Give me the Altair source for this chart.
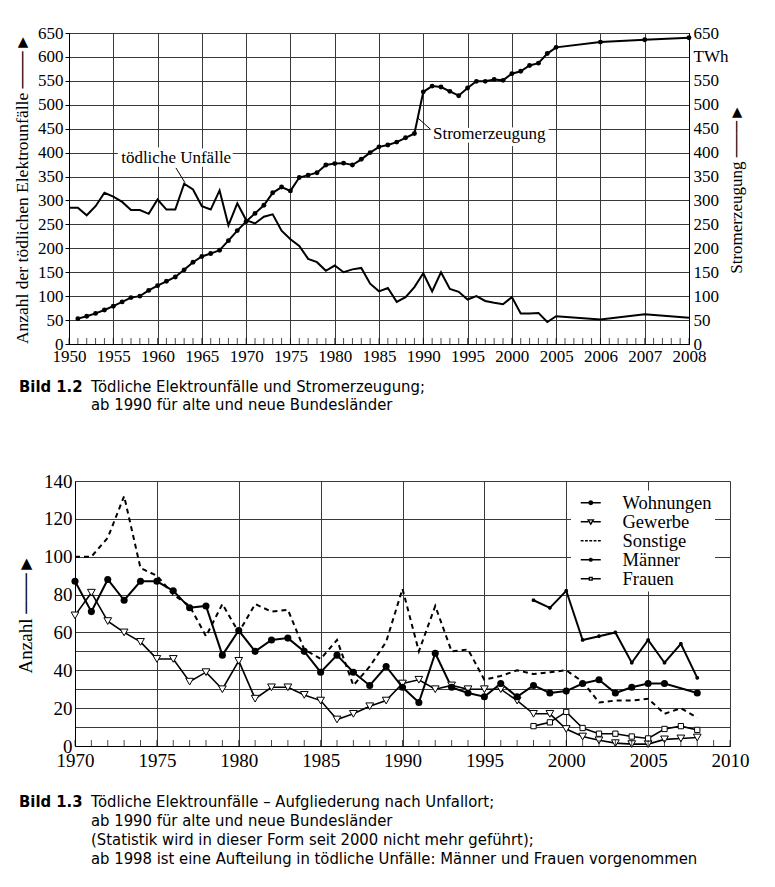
import json
import altair as alt
import pandas as pd

# ---------------- Bild 1.2 : data ----------------
years1 = list(range(1950, 2006)) + [2006, 2007, 2008]
unfaelle = [285, 285, 269, 288, 316, 308, 297, 280, 280, 272,
            302, 281, 281, 335, 323, 288, 281, 321, 248, 294,
            259, 252, 266, 271, 237, 219, 205, 178, 171, 153,
            164, 150, 156, 159, 126, 110, 117, 88, 98, 119,
            148, 110, 150, 115, 109, 93, 100, 90, 86, 83,
            98, 64, 64, 65, 46, 58,
            51, 62, 55]
strom = [None, 53, 58, 64, 71, 79, 88, 97, 100, 112,
         122, 131, 140, 155, 171, 183, 189, 196, 216, 237,
         256, 273, 290, 316, 328, 320, 348, 353, 358, 374,
         377, 378, 374, 386, 400, 412, 416, 422, 431, 440,
         527, 539, 537, 528, 519, 535, 549, 549, 553, 551,
         565, 570, 582, 587, 607, 620,
         631, 636, 640]
x_labels1 = ['1950', '1955', '1960', '1965', '1970', '1975', '1980', '1985',
             '1990', '1995', '2000', '2005', '2006', '2007', '2008']
y_ticks1 = list(range(0, 651, 50))
ann_unf = {'pos': [2.42], 'unfaelle': [389], 'label': ['tödliche Unfälle']}
ann_strom = {'pos': [8.22], 'unfaelle': [439], 'label': ['Stromerzeugung']}
leaders = {'pos': [2.415, 7.87], 'pos2': [2.62, 8.16], 'unfaelle': [368, 473], 'unf2': [337, 449]}
cap1_bold = 'Bild 1.2'
cap1_lines = ['Tödliche Elektrounfälle und Stromerzeugung;',
              'ab 1990 für alte und neue Bundesländer']

# ---------------- Bild 1.3 : data ----------------
years2 = list(range(1970, 2009))
series_names = ['Wohnungen', 'Gewerbe', 'Sonstige', 'Männer', 'Frauen']
wohnungen = [87, 71, 88, 77, 87, 87, 82, 73, 74, 48,
             61, 50, 56, 57, 50, 39, 48, 39, 32, 42,
             31, 23, 49, 31, 28, 26, 33, 26, 32, 28,
             29, 33, 35, 28, 31, 33, 33, None, 28]
gewerbe = [69, 81, 66, 60, 55, 46, 46, 34, 39, 30,
           45, 25, 31, 31, 27, 24, 14, 17, 21, 24,
           33, 35, 30, 32, 30, 30, 30, 24, 17, 17,
           9, 5, 3, 1.5, 1, 1, 3.5, 4, 4.5]
sonstige = [100, 100, 110, 132, 94, 90, 80, 74, 58, 75,
            60, 75, 71, 72, 51, 46, 56, 32, 42, 55,
            83, 50, 74, 50, 51, 35, 37, 40, 38, 39,
            40, 34, 23, 24, 24, 25, 17, 20, 15]
maenner = [None] * 28 + [77, 73, 82, 56, 58, 60, 44, 56, 44, 54, 36]
frauen = [None] * 28 + [10.5, 12.5, 18, 9.5, 6.5, 6.5, 5, 4, 9, 10.5, 8.5]
y_grid2 = [0, 10, 20, 30, 40, 50, 60, 80, 100, 120, 140]
y_unlabeled2 = [10, 30, 50]
x_ticks2 = list(range(1970, 2011, 5))
cap2_bold = 'Bild 1.3'
cap2_lines = ['Tödliche Elektrounfälle – Aufgliederung nach Unfallort;',
              'ab 1990 für alte und neue Bundesländer',
              '(Statistik wird in dieser Form seit 2000 nicht mehr geführt);',
              'ab 1998 ist eine Aufteilung in tödliche Unfälle: Männer und Frauen vorgenommen']

# ---------------- styling ----------------
SERIF = 'Liberation Serif'
CAPF = 'Liberation Sans Narrow, DejaVu Sans Condensed, sans-serif'
GRID = '#3a3a3a'
W1, H1 = 620, 311
W2, H2 = 661, 265
OFF2 = 6

ASTER = 'M-0.5,0H0.5M0,-0.5V0.5M-0.4,-0.3L0.4,0.3M-0.4,0.3L0.4,-0.3'
legend_paths = [
    # line + filled dot (concentric rings)
    'M-0.5,0H3.5M1.85,0A0.35,0.35,0,1,1,1.15,0A0.35,0.35,0,1,1,1.85,0Z'
    'M1.7,0A0.2,0.2,0,1,1,1.3,0A0.2,0.2,0,1,1,1.7,0Z'
    'M1.56,0A0.06,0.06,0,1,1,1.44,0A0.06,0.06,0,1,1,1.56,0Z',
    # line + open down-triangle
    'M-0.5,0H1.0M2.0,0H3.5M0.98,-0.38L2.02,-0.38L1.5,0.48Z',
    # dashed
    'M-0.5,0H0.06M0.36,0H0.92M1.22,0H1.78M2.08,0H2.64M2.94,0H3.5',
    # line + asterisk
    'M-0.5,0H3.5M1.5,-0.4V0.4M1.15,-0.22L1.85,0.22M1.15,0.22L1.85,-0.22',
    # line + small open square
    'M-0.5,0H1.22M1.78,0H3.5M1.22,-0.28H1.78V0.28H1.22Z',
]

one = pd.DataFrame({'k': [0]})

# ================= Chart 1 =================
df1 = pd.DataFrame({'year': years1, 'unfaelle': unfaelle, 'strom': strom})
pos_expr = "datum.year <= 2005 ? (datum.year - 1950) / 5 : datum.year - 1994"
label_expr1 = json.dumps(x_labels1).replace('"', "'") + "[round(datum.value)]"

x1 = alt.X('pos:Q', scale=alt.Scale(domain=[0, 14], nice=False, zero=False),
           axis=alt.Axis(values=list(range(15)), labelExpr=label_expr1, title=None,
                         grid=True, gridColor=GRID, tickSize=0, labelPadding=4,
                         labelFontSize=17, labelFlush=False, labelOverlap=False))
yL = alt.Y('unfaelle:Q', scale=alt.Scale(domain=[0, 650], nice=False),
           axis=alt.Axis(values=y_ticks1, title='Anzahl der tödlichen Elektrounfälle ───►',
                         grid=True, gridColor=GRID, tickSize=4, labelPadding=2,
                         labelFontSize=17, titleFontSize=17.5, titlePadding=6,
                         labelFlush=False, labelOverlap=False))
yR = alt.Y('strom:Q', scale=alt.Scale(domain=[0, 650], nice=False),
           axis=alt.Axis(orient='right', values=y_ticks1,
                         labelExpr="datum.value == 600 ? 'TWh' : datum.label",
                         title='Stromerzeugung ───►', titleAngle=270, grid=False,
                         tickSize=0, labelPadding=4, labelFontSize=17, titleFontSize=17,
                         titlePadding=18, labelFlush=False, labelOverlap=False))

base1 = alt.Chart(df1).transform_calculate(pos=pos_expr)
unf_line = base1.mark_line(color='black', strokeWidth=2).encode(x=x1, y=yL)
ticks1 = alt.Chart(alt.sequence(0, 14.05, 0.2, as_='pos')).mark_tick(
    orient='vertical', size=6, thickness=1, color='black', yOffset=-3
).encode(x=x1, y=alt.value(H1))
lead = alt.Chart(pd.DataFrame(leaders)).mark_rule(color='black', strokeWidth=1).encode(
    x=x1, x2='pos2:Q', y=yL, y2='unf2:Q')
au = alt.Chart(pd.DataFrame(ann_unf))
au_halo = au.mark_text(font=SERIF, fontSize=17, color='white', stroke='white', strokeWidth=7,
                       align='center').encode(x=x1, y=yL, text='label:N')
au_txt = au.mark_text(font=SERIF, fontSize=17, color='black', align='center').encode(
    x=x1, y=yL, text='label:N')
ast = alt.Chart(pd.DataFrame(ann_strom))
as_halo = ast.mark_text(font=SERIF, fontSize=17, color='white', stroke='white', strokeWidth=7,
                        align='left').encode(x=x1, y=yL, text='label:N')
as_txt = ast.mark_text(font=SERIF, fontSize=17, color='black', align='left').encode(
    x=x1, y=yL, text='label:N')
cap1a = alt.Chart(one).mark_text(text=cap1_bold, font=CAPF, fontSize=16.5, fontWeight='bold',
                                 align='left', baseline='top', color='black').encode(
    x=alt.value(-50), y=alt.value(346))
cap1b = alt.Chart(one).mark_text(text=cap1_lines, font=CAPF, fontSize=16.5, lineHeight=18,
                                 align='left', baseline='top', color='black').encode(
    x=alt.value(22), y=alt.value(346))

left1 = alt.layer(unf_line, ticks1, lead, au_halo, au_txt, as_halo, as_txt, cap1a, cap1b)

base1s = base1.transform_filter('isValid(datum.strom)')
strom_line = base1s.mark_line(color='black', strokeWidth=2).encode(x=x1, y=yR)
strom_pts = base1s.mark_point(filled=True, color='black', size=24, opacity=1).encode(x=x1, y=yR)
right1 = alt.layer(strom_line, strom_pts)

c1 = alt.layer(left1, right1).resolve_scale(y='independent').properties(width=W1, height=H1)

# ================= Chart 2 =================
rows = []
for name, vals in zip(series_names, [wohnungen, gewerbe, sonstige, maenner, frauen]):
    for yr, v in zip(years2, vals):
        if v is not None:
            rows.append({'year': yr, 'series': name, 'value': v})
df2 = pd.DataFrame(rows)

x2 = alt.X('year:Q', scale=alt.Scale(domain=[1970, 2010], range=[OFF2, W2], nice=False, zero=False),
           axis=alt.Axis(values=x_ticks2, format='d', title=None, grid=True, gridColor=GRID,
                         tickSize=0, labelPadding=5, labelFontSize=19, labelFlush=False,
                         labelOverlap=False))
lab2 = "indexof(" + json.dumps(y_unlabeled2) + ", datum.value) >= 0 ? '' : datum.label"
y2 = alt.Y('value:Q', scale=alt.Scale(domain=[0, 140], nice=False),
           axis=alt.Axis(values=y_grid2, labelExpr=lab2, title='Anzahl ───►', grid=True,
                         gridColor=GRID, tickSize=0, labelPadding=3, labelFontSize=19,
                         titleFontSize=19, titlePadding=8, offset=-OFF2,
                         labelFlush=False, labelOverlap=False))

base2 = alt.Chart(df2)


def sline(name, **kw):
    return base2.transform_filter(alt.datum.series == name).mark_line(color='black', **kw).encode(x=x2, y=y2)


def spts(name, **kw):
    return base2.transform_filter(alt.datum.series == name).mark_point(opacity=1, **kw).encode(x=x2, y=y2)


layers2 = [
    sline('Sonstige', strokeWidth=2, strokeDash=[5, 4]),
    sline('Gewerbe', strokeWidth=1.6),
    sline('Frauen', strokeWidth=1.6),
    sline('Wohnungen', strokeWidth=2),
    sline('Männer', strokeWidth=2),
    spts('Gewerbe', shape='triangle-down', filled=True, fill='white', stroke='black', strokeWidth=1, size=60),
    spts('Frauen', shape='square', filled=True, fill='white', stroke='black', strokeWidth=1, size=28),
    spts('Wohnungen', shape='circle', filled=True, color='black', size=50),
    spts('Männer', shape=ASTER, filled=False, stroke='black', strokeWidth=1.6, size=55),
]
ticks2 = alt.Chart(alt.sequence(1970, 2011, 1, as_='year')).mark_tick(
    orient='vertical', size=6, thickness=1, color='black', yOffset=-3
).encode(x=x2, y=alt.value(H2))

leg = alt.Legend(orient='none', legendX=502, legendY=9.5, title=None, labelFont=SERIF,
                 labelFontSize=18.5, labelColor='black', symbolSize=100, symbolStrokeWidth=1.4,
                 symbolStrokeColor='black', symbolFillColor='white', symbolOpacity=1,
                 fillColor='white', padding=3, rowPadding=0, labelOffset=30)
legend_layer = alt.Chart(pd.DataFrame({'series': series_names})).mark_point(
    size=100, opacity=0, stroke='black', filled=False
).encode(
    shape=alt.Shape('series:N', scale=alt.Scale(domain=series_names, range=legend_paths), legend=leg),
)
cap2a = alt.Chart(one).mark_text(text=cap2_bold, font=CAPF, fontSize=16.5, fontWeight='bold',
                                 align='left', baseline='top', color='black').encode(
    x=alt.value(-50), y=alt.value(313))
cap2b = alt.Chart(one).mark_text(text=cap2_lines, font=CAPF, fontSize=16.5, lineHeight=19,
                                 align='left', baseline='top', color='black').encode(
    x=alt.value(22), y=alt.value(313))

c2 = alt.layer(*layers2, ticks2, legend_layer, cap2a, cap2b).properties(
    width=W2, height=H2, view=alt.ViewBackground(stroke='transparent'))

chart = alt.vconcat(c1, c2, spacing=57).resolve_scale(shape='independent').resolve_legend(
    shape='independent'
).properties(
    padding={'left': 5, 'top': 15, 'right': 5, 'bottom': 5}
).configure(font=SERIF).configure_view(stroke='black', strokeWidth=1).configure_axis(
    labelColor='black', titleColor='black', titleFontWeight='normal', labelFont=SERIF,
    titleFont=SERIF, domainColor='black', tickColor='black', gridOpacity=1, gridWidth=1
)

chart.save('out.html', embed_options={'renderer': 'svg', 'actions': False})
